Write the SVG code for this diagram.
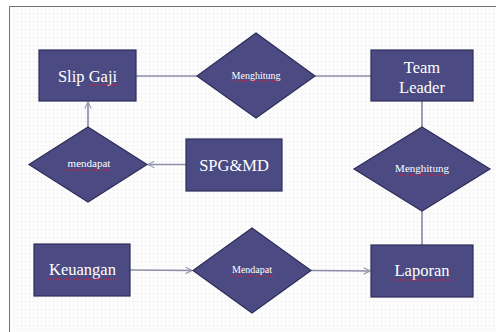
<svg xmlns="http://www.w3.org/2000/svg" width="496" height="332" viewBox="0 0 496 332">
<defs>
<pattern id="dots" x="0" y="0" width="4" height="4" patternUnits="userSpaceOnUse">
<rect width="4" height="4" fill="#fcfcfc"/>
<rect x="1" y="1" width="1" height="1" fill="#e6e6e6"/>
</pattern>
<marker id="arr" viewBox="0 0 10 10" refX="9" refY="5" markerWidth="8" markerHeight="8" markerUnits="userSpaceOnUse" orient="auto">
<path d="M1,1 L9,5 L1,9" fill="none" stroke="#9a9ab4" stroke-width="1.5"/>
</marker>
<style>
.box{fill:#4b4a83;stroke:#2e2d5a;stroke-width:1.2}
.t{font-family:"Liberation Serif","DejaVu Serif",serif;fill:#ffffff;text-anchor:middle}
.big{font-size:16.5px}
.sm{font-size:10px}
.sm2{font-size:11px}
.sq{stroke:#d8203c;stroke-width:1;stroke-dasharray:1.5 1;fill:none}
.c{stroke:#8e8eaa;stroke-width:1.3;fill:none}
.cv{stroke:#6c6c90;stroke-width:1.3;fill:none}
</style>
</defs>
<rect width="496" height="332" fill="#ffffff"/>
<rect x="9.5" y="6.5" width="487" height="326" fill="url(#dots)"/>
<path d="M9.5,332 V6.5 H496" fill="none" stroke="#707070" stroke-width="1"/>

<g id="connectors">
<line class="c" x1="136" y1="76" x2="197" y2="76"/>
<line class="c" x1="315" y1="76" x2="371" y2="76"/>
<line class="cv" x1="88" y1="127" x2="88" y2="102" marker-end="url(#arr)"/>
<line class="c" x1="186" y1="164.5" x2="148" y2="164.5" marker-end="url(#arr)"/>
<line class="cv" x1="422" y1="101" x2="422" y2="127"/>
<line class="cv" x1="422" y1="211" x2="422" y2="245"/>
<line class="c" x1="130" y1="270" x2="192" y2="270.5" marker-end="url(#arr)"/>
<line class="c" x1="311" y1="270.5" x2="370" y2="271" marker-end="url(#arr)"/>
</g>

<g id="slip-gaji">
<rect class="box" x="39" y="50" width="97" height="51"/>
<text class="t big" x="87.5" y="82">Slip Gaji</text>
<line class="sq" x1="89" y1="85" x2="117" y2="85"/>
</g>

<g id="menghitung-top">
<polygon class="box" points="256,33 315,76 256,118 197,76"/>
<text class="t sm" x="256" y="79">Menghitung</text>
<line class="sq" x1="234" y1="81" x2="278" y2="81"/>
</g>

<g id="team-leader">
<rect class="box" x="371" y="50" width="102" height="51"/>
<text class="t big" x="422" y="73">Team</text>
<text class="t big" x="422" y="93">Leader</text>
</g>

<g id="mendapat-left">
<polygon class="box" points="88,127 147,164.5 88,202 29,164.5"/>
<text class="t sm2" x="89" y="167">mendapat</text>
<line class="sq" x1="66" y1="170" x2="112" y2="170"/>
</g>

<g id="spg-md">
<rect class="box" x="186" y="139" width="96" height="52"/>
<text class="t big" x="234" y="171">SPG&amp;MD</text>
</g>

<g id="menghitung-right">
<polygon class="box" points="422,127 490,169 422,211 354,169"/>
<text class="t sm2" x="422" y="172">Menghitung</text>
<line class="sq" x1="397" y1="175" x2="447" y2="175"/>
</g>

<g id="keuangan">
<rect class="box" x="34" y="244" width="96" height="52"/>
<text class="t big" x="82.5" y="275">Keuangan</text>
<line class="sq" x1="48" y1="279" x2="117" y2="279"/>
</g>

<g id="mendapat-bottom">
<polygon class="box" points="252,228 311,270.5 252,313 193,270.5"/>
<text class="t sm" x="252" y="273">Mendapat</text>
<line class="sq" x1="230" y1="276" x2="274" y2="276"/>
</g>

<g id="laporan">
<rect class="box" x="371" y="245" width="102" height="52"/>
<text class="t big" x="422" y="276">Laporan</text>
<line class="sq" x1="392" y1="280" x2="451" y2="280"/>
</g>
</svg>
